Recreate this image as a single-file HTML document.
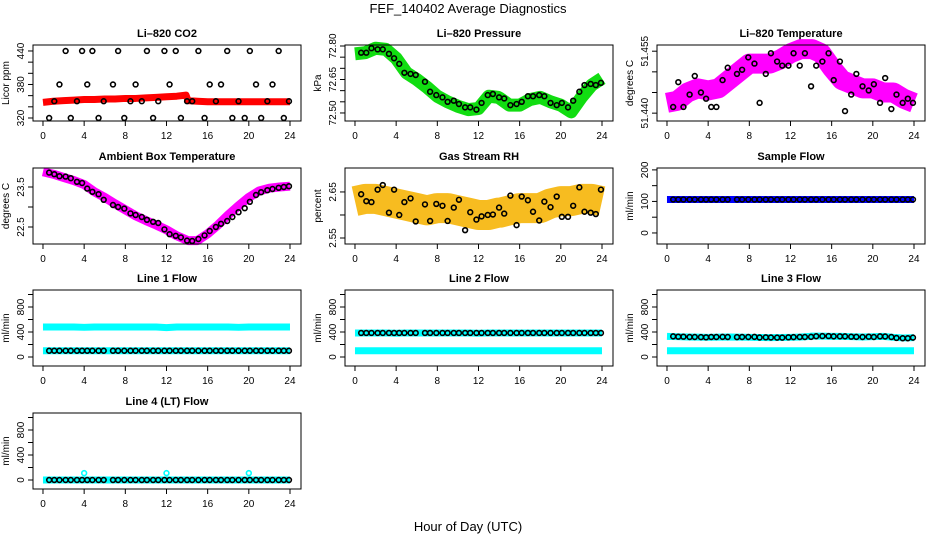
<!DOCTYPE html>
<html><head><meta charset="utf-8"><style>
body{margin:0;background:#fff}
svg{display:block;font-family:"Liberation Sans",Arial,sans-serif}
</style></head><body>
<svg id="c" width="936" height="540" xmlns="http://www.w3.org/2000/svg">
<text x="468" y="13" text-anchor="middle" font-size="13">FEF_140402  Average Diagnostics</text>
<text x="468" y="531" text-anchor="middle" font-size="13">Hour of Day (UTC)</text>
</svg>
<script>
const hours=[0.6,1.1,1.6,2.2,2.7,3.3,3.8,4.3,4.8,5.4,5.9,6.8,7.3,7.9,8.5,9.0,9.6,10.1,10.7,11.2,11.8,12.3,12.9,13.4,14.0,14.5,15.1,15.7,16.2,16.8,17.3,17.9,18.4,19.0,19.6,20.1,20.7,21.2,21.8,22.3,22.9,23.4,23.9];
const bandHours=[0,1,2,3,4,5,6,7,8,9,10,11,12,13,13.9,14.1,15,16,17,18,19,20,21,22,23,24];
const xTicks=[0,4,8,12,16,20,24];
// CO2
const co2Band=[348,350,351,352,353,353,354,354,355,355,356,357,358,359,361,351,350,349,349,349,349,349,349,349,349,349];
const co2Black=[320,350,380,440,320,350,440,380,440,320,350,380,440,320,350,380,350,440,320,350,440,380,440,320,350,350,440,320,380,350,380,440,320,350,320,440,380,320,350,380,440,320,350];
// Pressure
const presBand=[72.765,72.77,72.79,72.785,72.745,72.68,72.65,72.615,72.575,72.55,72.53,72.515,72.52,72.575,72.57,72.565,72.535,72.535,72.56,72.57,72.55,72.535,72.505,72.57,72.625,72.655];
const presBlack=[72.77,72.77,72.79,72.785,72.785,72.765,72.745,72.72,72.68,72.675,72.67,72.64,72.595,72.58,72.57,72.55,72.555,72.54,72.525,72.525,72.515,72.545,72.58,72.585,72.57,72.565,72.535,72.54,72.55,72.575,72.575,72.58,72.575,72.545,72.535,72.545,72.525,72.555,72.595,72.625,72.63,72.625,72.635];
// Li-820 temperature
const tempBand=[51.4425,51.443,51.445,51.446,51.4455,51.446,51.448,51.450,51.452,51.452,51.452,51.453,51.4545,51.4555,51.4555,51.4555,51.4545,51.451,51.448,51.447,51.446,51.446,51.445,51.445,51.4435,51.4425];
const tempBlack=[51.4415,51.4475,51.4415,51.4445,51.449,51.445,51.4435,51.4415,51.4415,51.448,51.451,51.4495,51.4505,51.4535,51.452,51.4425,51.4495,51.4545,51.4525,51.4515,51.4515,51.4545,51.4515,51.4545,51.4465,51.4515,51.4525,51.4545,51.448,51.4525,51.4405,51.4445,51.4495,51.4465,51.4455,51.447,51.4425,51.4485,51.441,51.4445,51.4425,51.4435,51.4425];
// Ambient box temperature
const ambBand=[23.88,23.82,23.74,23.66,23.56,23.38,23.24,23.08,22.93,22.78,22.66,22.55,22.43,22.28,22.18,22.16,22.16,22.33,22.55,22.8,23.03,23.24,23.4,23.47,23.5,23.52];
const ambBlack=[23.86,23.82,23.77,23.76,23.72,23.63,23.6,23.46,23.38,23.32,23.18,23.05,23.0,22.96,22.84,22.80,22.75,22.68,22.63,22.6,22.44,22.32,22.28,22.24,22.16,22.15,22.2,22.29,22.40,22.5,22.58,22.65,22.75,22.87,22.97,23.13,23.3,23.37,23.42,23.45,23.48,23.5,23.52];
// Gas stream RH
const rhBand=[2.63,2.635,2.635,2.63,2.625,2.62,2.615,2.61,2.615,2.615,2.61,2.605,2.6,2.6,2.605,2.605,2.61,2.615,2.615,2.615,2.625,2.63,2.63,2.635,2.635,2.63];
const rhBlack=[2.645,2.63,2.628,2.655,2.665,2.605,2.655,2.6,2.628,2.636,2.586,2.623,2.587,2.624,2.62,2.587,2.616,2.633,2.567,2.606,2.59,2.597,2.6,2.601,2.616,2.603,2.642,2.578,2.64,2.632,2.607,2.588,2.629,2.617,2.64,2.596,2.596,2.62,2.66,2.607,2.605,2.602,2.655];
// Sample flow
const sampBand=[106,106,106,106,106,106,106,106,106,106,106,106,106,106,106,106,106,106,106,106,106,106,106,106,106,106];
const sampBlack=[106,106,106,106,106,106,106,106,106,106,106,106,106,106,106,106,106,106,106,106,106,106,106,106,106,106,106,106,106,106,106,106,106,106,106,106,106,106,106,106,106,106,106];
// Line flows
const l1Upper=[480,480,480,480,475,480,480,480,480,480,480,480,470,480,480,480,480,480,480,480,475,480,480,480,480,480];
const l1Lower=[100,100,100,100,100,100,100,100,100,100,100,100,100,100,100,100,100,100,100,100,100,100,100,100,100,100];
const l1Black=[100,100,100,100,100,100,100,100,100,100,100,100,100,100,100,100,100,100,100,100,100,100,100,100,100,100,100,100,100,100,100,100,100,100,100,100,100,100,100,100,100,100,100];
const l2Upper=[385,385,385,385,380,385,385,385,385,385,385,385,380,385,385,385,385,385,385,385,385,385,385,385,385,385];
const l2Lower=[100,100,100,100,100,100,100,100,100,100,100,100,100,100,100,100,100,100,100,100,100,100,100,100,100,100];
const l2Black=[385,385,385,385,385,385,385,385,385,385,385,385,385,385,385,385,385,385,385,385,385,385,385,385,385,385,385,385,385,385,385,385,385,385,385,385,385,385,385,385,385,385,385];
const l3Upper=[330,325,320,318,315,318,320,318,315,312,310,312,315,320,330,335,335,330,330,325,320,325,330,315,305,310];
const l3Lower=[100,100,100,100,100,100,100,100,100,100,100,100,100,100,100,100,100,100,100,100,100,100,100,100,100,100];
const l3Black=[330,325,325,320,320,318,315,320,320,322,320,318,320,320,322,312,315,312,310,310,315,318,320,320,322,332,335,335,330,330,330,325,322,320,325,320,330,328,320,305,300,300,310];
const l4Lower=[0,0,0,0,0,0,0,0,0,0,0,0,0,0,0,0,0,0,0,0,0,0,0,0,0,0];
const l4OutX=[4,12,20];
const l4OutY=[110,110,110];
const l4Black=[0,0,0,0,0,0,0,0,0,0,0,0,0,0,0,0,0,0,0,0,0,0,0,0,0,0,0,0,0,0,0,0,0,0,0,0,0,0,0,0,0,0,0];

const svg=document.getElementById('c');
const NS='http://www.w3.org/2000/svg';
function mk(tag,attrs,parent){const e=document.createElementNS(NS,tag);for(const k in attrs)e.setAttribute(k,attrs[k]);(parent||svg).appendChild(e);return e;}
const colLeft=[33,345,657], rowTop=[45,168,290,413], W=268, H=76;
const XMIN=-0.97, XMAX=25.07;

function panel(cfg){
  const L=colLeft[cfg.col], T=rowTop[cfg.row];
  const g=mk('g',{});
  
  
  const xs=v=>L+(v-XMIN)/(XMAX-XMIN)*W;
  const ys=v=>T+H-(v-cfg.ymin)/(cfg.ymax-cfg.ymin)*H;
  const t=mk('text',{x:L+W/2,y:T-8,'text-anchor':'middle','font-size':11,'font-weight':'bold'},g);
  t.textContent=cfg.title;
  
  
  const yl=mk('text',{transform:`translate(${L-24},${T+H/2}) rotate(-90)`,'text-anchor':'middle','font-size':10},g);
  yl.textContent=cfg.ylab;
  
  
  const mg=mk('g',{},g);
  cfg.draw(mg,xs,ys);
  mk('rect',{x:L,y:T,width:W,height:H,fill:'none',stroke:'#000','stroke-width':1},g);
  xTicks.forEach(v=>{
    mk('line',{x1:xs(v),x2:xs(v),y1:T+H,y2:T+H+5,stroke:'#000'},g);
    const tx=mk('text',{x:xs(v),y:T+H+18,'text-anchor':'middle','font-size':10},g);
    tx.textContent=v;
    
    
  });
  cfg.yticks.forEach(v=>{
    mk('line',{x1:L-5,x2:L,y1:ys(v),y2:ys(v),stroke:'#000'},g);
  });
  cfg.ylabels.forEach(v=>{
    const s=cfg.fmt?cfg.fmt(v):String(v);
    const tx=mk('text',{transform:`translate(${L-9},${ys(v)}) rotate(-90)`,'text-anchor':'middle','font-size':10},g);
    tx.textContent=s;
    
    
  });
}
function band(g,xs,ys,xv,yv,color,w,name){
  const p=mk('polyline',{points:xv.map((x,i)=>xs(x)+','+ys(yv[i])).join(' '),fill:'none',stroke:color,'stroke-width':w,'stroke-linejoin':'round','stroke-linecap':'butt'},g);
  
  
}
function pts(g,xs,ys,xv,yv,color,name){
  xv.forEach((x,i)=>{
    const c=mk('circle',{cx:xs(x),cy:ys(yv[i]),r:2.4,fill:'none',stroke:color,'stroke-width':1.6},g);
    
    
  });
}
const f2=v=>v.toFixed(2), f3=v=>v.toFixed(3), f1=v=>v.toFixed(1);
panel({name:'panel-co2',col:0,row:0,title:'Li–820 CO2',ylab:'Licor ppm',ymin:314.6,ymax:450.7,yticks:[320,340,360,380,400,420,440],ylabels:[320,380,440],
 draw:(g,xs,ys)=>{band(g,xs,ys,bandHours,co2Band,'#f00',7,'co2-band');pts(g,xs,ys,hours,co2Black,'#000','co2-point');}});
panel({name:'panel-pressure',col:1,row:0,title:'Li–820 Pressure',ylab:'kPa',ymin:72.464,ymax:72.8045,yticks:[72.5,72.55,72.6,72.65,72.7,72.75,72.8],ylabels:[72.5,72.65,72.8],fmt:f2,
 draw:(g,xs,ys)=>{band(g,xs,ys,bandHours,presBand,'#1d1',13,'pressure-band');pts(g,xs,ys,hours,presBlack,'#000','pressure-point');}});
panel({name:'panel-temperature',col:2,row:0,title:'Li–820 Temperature',ylab:'degrees C',ymin:51.4381,ymax:51.4565,yticks:[51.44,51.445,51.45,51.455],ylabels:[51.44,51.455],fmt:f3,
 draw:(g,xs,ys)=>{band(g,xs,ys,bandHours,tempBand,'#f0f',20,'temperature-band');pts(g,xs,ys,hours,tempBlack,'#000','temperature-point');}});
panel({name:'panel-ambient',col:0,row:1,title:'Ambient Box Temperature',ylab:'degrees C',ymin:22.075,ymax:23.975,yticks:[22.5,23,23.5],ylabels:[22.5,23.5],fmt:f1,
 draw:(g,xs,ys)=>{band(g,xs,ys,bandHours,ambBand,'#f0f',9,'ambient-band');pts(g,xs,ys,hours,ambBlack,'#000','ambient-point');}});
panel({name:'panel-rh',col:1,row:1,title:'Gas Stream RH',ylab:'percent',ymin:2.537,ymax:2.702,yticks:[2.55,2.6,2.65],ylabels:[2.55,2.65],fmt:f2,
 draw:(g,xs,ys)=>{band(g,xs,ys,bandHours,rhBand,'#f7bc20',30,'rh-band');pts(g,xs,ys,hours,rhBlack,'#000','rh-point');}});
panel({name:'panel-sample-flow',col:2,row:1,title:'Sample Flow',ylab:'ml/min',ymin:-35,ymax:206,yticks:[0,50,100,150,200],ylabels:[0,100,200],
 draw:(g,xs,ys)=>{band(g,xs,ys,bandHours,sampBand,'#00f',7,'sample-band');pts(g,xs,ys,hours,sampBlack,'#000','sample-point');}});
const flowTicks=[0,200,400,600,800,1000], flowLabels=[0,400,800];
panel({name:'panel-line1',col:0,row:2,title:'Line 1 Flow',ylab:'ml/min',ymin:-144,ymax:1072,yticks:flowTicks,ylabels:flowLabels,
 draw:(g,xs,ys)=>{band(g,xs,ys,bandHours,l1Upper,'#0ff',7,'line1-upper');band(g,xs,ys,bandHours,l1Lower,'#0ff',7,'line1-lower');pts(g,xs,ys,hours,l1Black,'#000','line1-point');}});
panel({name:'panel-line2',col:1,row:2,title:'Line 2 Flow',ylab:'ml/min',ymin:-144,ymax:1072,yticks:flowTicks,ylabels:flowLabels,
 draw:(g,xs,ys)=>{band(g,xs,ys,bandHours,l2Upper,'#0ff',7,'line2-upper');band(g,xs,ys,bandHours,l2Lower,'#0ff',7,'line2-lower');pts(g,xs,ys,hours,l2Black,'#000','line2-point');}});
panel({name:'panel-line3',col:2,row:2,title:'Line 3 Flow',ylab:'ml/min',ymin:-144,ymax:1072,yticks:flowTicks,ylabels:flowLabels,
 draw:(g,xs,ys)=>{band(g,xs,ys,bandHours,l3Upper,'#0ff',7,'line3-upper');band(g,xs,ys,bandHours,l3Lower,'#0ff',7,'line3-lower');pts(g,xs,ys,hours,l3Black,'#000','line3-point');}});
panel({name:'panel-line4',col:0,row:3,title:'Line 4 (LT) Flow',ylab:'ml/min',ymin:-144,ymax:1072,yticks:flowTicks,ylabels:flowLabels,
 draw:(g,xs,ys)=>{band(g,xs,ys,bandHours,l4Lower,'#0ff',7,'line4-band');pts(g,xs,ys,l4OutX,l4OutY,'#0ff','line4-outlier');pts(g,xs,ys,hours,l4Black,'#000','line4-point');}});
</script>
</body></html>
